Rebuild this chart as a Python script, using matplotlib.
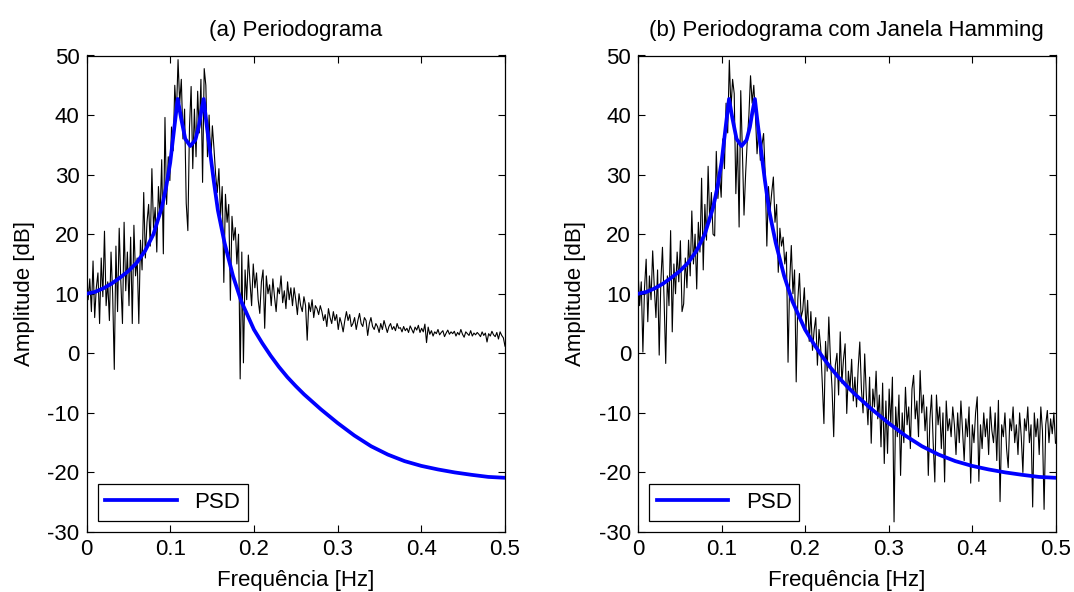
import numpy as np
import matplotlib
matplotlib.use("Agg")
import matplotlib.pyplot as plt

plt.rcParams['font.family'] = ['Liberation Sans', 'DejaVu Sans']

# ---------------- data ----------------
N_FFT = 512
freq = np.arange(257) / N_FFT  # 0 .. 0.5 Hz

# PSD (AR model) curve
psd_f = [0, 0.01, 0.02, 0.03, 0.04, 0.05, 0.06, 0.07, 0.08, 0.09, 0.095, 0.1, 0.105,
         0.109, 0.113, 0.118, 0.124, 0.13, 0.134, 0.137, 0.14, 0.143, 0.147, 0.152,
         0.157, 0.165, 0.175, 0.185, 0.2, 0.21, 0.22, 0.23, 0.24, 0.25, 0.26, 0.28,
         0.3, 0.32, 0.34, 0.36, 0.38, 0.4, 0.42, 0.44, 0.46, 0.48, 0.5]
psd_db = [10, 10.3, 10.9, 11.7, 12.7, 13.8, 15.2, 17.2, 20, 24.5, 27.8, 32, 38,
          42.7, 39.5, 36, 34.8, 35.8, 38, 40.5, 42.7, 39, 34.5, 29,
          24, 18.5, 13, 8.7, 4, 1.7, -0.4, -2.3, -4.0, -5.5, -6.9, -9.4,
          -11.7, -13.8, -15.6, -17, -18.1, -18.9, -19.5, -20, -20.4, -20.75, -20.9]

# (a) raw periodogram [dB]
per_a = [
    14, 9, 12.5, 7, 15.5, 6, 11, 13.5, 5, 16, 9.5, 20.5, 8, 12, 5.5, 17,
    10, -2.7, 18, 7, 21, 12, 5, 22, 10.5, 17, 8, 19.5, 5, 21.5, 13, 16,
    5, 19, 14, 27, 16, 22, 25, 18, 31, 21, 24.5, 17, 28, 23, 32.5, 16.7,
    39.6, 25, 33, 29, 38, 34, 45, 40, 49.3, 42, 46, 36, 41, 25.2, 20.6, 38,
    44.8, 31, 41, 33, 44, 37, 46, 28.7, 47.8, 45, 33, 40, 32, 38.2, 34.3, 30,
    27, 31, 23, 28, 11.9, 26.7, 22, 25, 8.9, 23, 19, 21.1, 15, 20, -4.3, 17,
    -1.6, 14, 9, 16.5, 12, 8, 15, 11, 13.5, 9, 6.7, 12, 14, 4.2, 13, 10,
    11.5, 8, 12.5, 9.5, 7, 11, 10, 13, 8.5, 10.5, 7.5, 12, 9, 11, 8, 11,
    9, 6.5, 10, 8, 7, 9.5, 8, 2.2, 8.5, 7, 9, 6, 8, 7.5, 6.5, 8,
    7, 5.5, 6.5, 4.5, 7.5, 6, 5, 7, 5.5, 6.5, 4, 6, 5, 3.6, 5.5, 7,
    5.5, 6.5, 4.5, 5, 6, 4, 5.5, 6.7, 5, 4.5, 6, 5.5, 3.0, 5, 6, 4.5,
    4, 5, 4.5, 3.5, 5, 4, 5.5, 4.5, 3.5, 4.5, 5, 4, 4.5, 3.8, 5, 4.2,
    4.3, 3.6, 4.5, 3.8, 4.2, 3.5, 4.6, 4, 3.4, 4.4, 3.9, 4.7, 3.5, 4.2, 3.6, 4.9,
    1.8, 4.4, 3.2, 3.8, 2.9, 3.6, 3.3, 4, 3.1, 3.5, 3.8, 2.8, 3.4, 3.9, 3.2, 3.6,
    3.3, 3.7, 2.9, 3.5, 3.1, 4.0, 3.2, 2.7, 3.6, 3.3, 3.0, 3.8, 2.9, 3.4, 3.1, 3.5,
    3.2, 2.8, 3.6, 3.0, 3.4, 1.9, 3.3, 2.9, 3.7, 3.1, 2.8, 3.5, 2.4, 3.6, 3.0, 2.6, 1.2,
]

# (b) Hamming-windowed periodogram [dB]
per_b = [
    14, 8, 12, 0.2, 11, 15.8, 5.3, 13, 9, 17.2, 11, 6, 14, -0.3, 12, 17.8,
    9, -1.7, 13, 8, 20.6, 3.6, 15, 10, 17, 12, 18.9, 7, 8.3, 16, 11, 19,
    13, 23.9, 15, 20, 10.8, 22, 17, 29.4, 14, 25, 19, 31.4, 22, 27, 20, 19.7,
    33.9, 26, 30, 26.2, 36, 31, 42, 37, 49.2, 41, 46, 43.6, 26.8, 36, 21.2, 44.1,
    34, 23.2, 30.2, 35.7, 40, 46.6, 42, 45, 40, 33.5, 38, 32.4, 35, 36.9, 30, 18,
    28, 24, 27, 29.6, 22, 25, 13.6, 21, 18, 19.5, 15, 17, -1.5, 12, 18.1, 10,
    14, -4.8, 9, 13.4, 6, 7.2, 11, 4, 8.9, 2, 7, 0.5, 3.9, 6, -2, 4,
    1, -5, -11.8, 2, -3, 6.1, -1, -6, -14, -2, 0, -7, 3.6, -5, -1, 1.6,
    -10.1, -3, -6, -1, -8, -4, -9, -2.5, 1.9, -6, -10, -0.1, -7, -12, -4, -15.1,
    -6, -9, -3, -11, -7, -15.7, -5, -18.5, -8, -16.8, -6, -12, -4, -28.3, -9, -14,
    -7, -20.5, -10, -15, -5.7, -12, -9, -16, -6, -3.7, -11, -8, -14, -2.9, -10, -7,
    -13, -9, -20.5, -11, -7, -15, -21.6, -7, -12, -9, -16, -10, -21.6, -8, -13, -11,
    -14, -9, -12, -17, -10, -15, -8, -13, -18, -11, -14, -9, -21.8, -12, -15, -10,
    -7.3, -21.5, -12, -16, -10, -14, -11, -17, -9, -13, -15, -10, -18, -7.9, -24.9, -12,
    -14, -10, -16, -19.2, -11, -13, -9, -15, -12, -17, -10, -14, -20, -11, -13, -9,
    -15, -12, -25.8, -10, -14, -11, -17, -9, -13, -26.2, -12, -9.6, -15, -11, -13.5, -10, -15.1,
]

titles = ['(a) Periodograma', '(b) Periodograma com Janela Hamming']
xticks = [0, 0.1, 0.2, 0.3, 0.4, 0.5]
xticklabels = ['0', '0.1', '0.2', '0.3', '0.4', '0.5']
yticks = [-30, -20, -10, 0, 10, 20, 30, 40, 50]
yticklabels = ['-30', '-20', '-10', '0', '10', '20', '30', '40', '50']
xlabel = 'Frequência [Hz]'
ylabel = 'Amplitude [dB]'
legend_label = 'PSD'

# ---------------- figure ----------------
W, H = 1074, 592
fig = plt.figure(figsize=(W / 100, H / 100), dpi=100)
FS = 16

positions = [
    (86.5 / W, 1 - 532 / H, 418.5 / W, (532 - 55.5) / H),
    (638 / W, 1 - 532 / H, 417.5 / W, (532 - 55.5) / H),
]

for pos, title, per in zip(positions, titles, [per_a, per_b]):
    ax = fig.add_axes(pos)
    ax.plot(freq, per, color='black', lw=0.8, zorder=2)
    ax.plot(psd_f, psd_db, color=(0, 0, 1), lw=2.7, label=legend_label,
            zorder=3, solid_joinstyle='round')
    ax.set_xlim(0, 0.5)
    ax.set_ylim(-30, 50)
    ax.set_xticks(xticks)
    ax.set_xticklabels(xticklabels)
    ax.set_yticks(yticks)
    ax.set_yticklabels(yticklabels)
    ax.tick_params(direction='in', top=True, right=True, length=5, width=0.8,
                   labelsize=FS, pad=5)
    for sp in ax.spines.values():
        sp.set_linewidth(0.9)
    ax.set_title(title, fontsize=FS, pad=14)
    ax.set_xlabel(xlabel, fontsize=FS, labelpad=7)
    ax.set_ylabel(ylabel, fontsize=FS, labelpad=9)
    leg = ax.legend(loc='lower left', fontsize=FS, fancybox=False,
                    edgecolor='black', framealpha=1, handlelength=3.2,
                    borderaxespad=0.5, borderpad=0.35, handletextpad=0.8)
    leg.get_frame().set_linewidth(0.9)

fig.savefig('out.png', dpi=100)
